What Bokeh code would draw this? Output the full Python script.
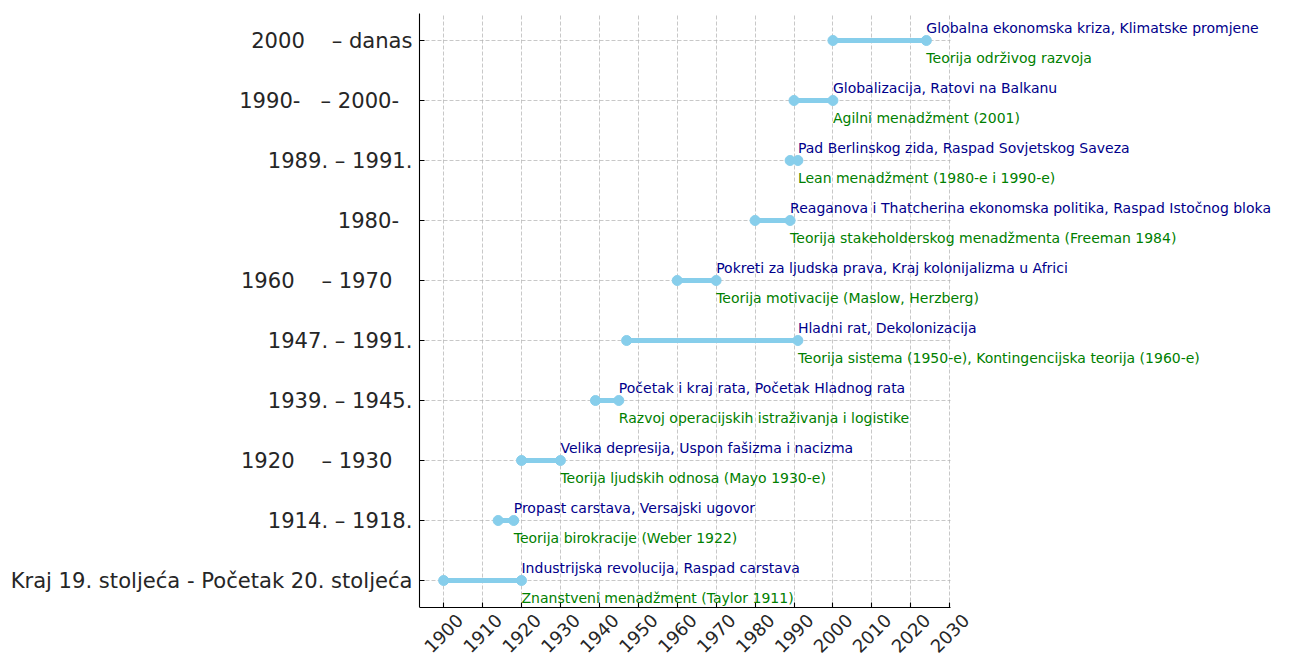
import math
from bokeh.plotting import figure
from bokeh.models import Range1d, FixedTicker, ColumnDataSource, Label
from bokeh.embed import file_html
from bokeh.resources import INLINE

NB = "\u00a0"

periods = [
    "Kraj 19. stoljeća - Početak 20. stoljeća",
    "1914." + NB + "–" + NB + "1918.",
    "1920" + NB * 4 + "–" + NB + "1930" + NB * 3,
    "1939." + NB + "–" + NB + "1945.",
    "1947." + NB + "–" + NB + "1991.",
    "1960" + NB * 4 + "–" + NB + "1970" + NB * 3,
    "1980-" + NB * 2,
    "1989." + NB + "–" + NB + "1991.",
    "1990-" + NB * 3 + "–" + NB + "2000-" + NB * 2,
    "2000" + NB * 4 + "–" + NB + "danas",
]
start_years = [1900, 1914, 1920, 1939, 1947, 1960, 1980, 1989, 1990, 2000]
end_years = [1920, 1918, 1930, 1945, 1991, 1970, 1989, 1991, 2000, 2024]
events = [
    "Industrijska revolucija, Raspad carstava",
    "Propast carstava, Versajski ugovor",
    "Velika depresija, Uspon fašizma i nacizma",
    "Početak i kraj rata, Početak Hladnog rata",
    "Hladni rat, Dekolonizacija",
    "Pokreti za ljudska prava, Kraj kolonijalizma u Africi",
    "Reaganova i Thatcherina ekonomska politika, Raspad Istočnog bloka",
    "Pad Berlinskog zida, Raspad Sovjetskog Saveza",
    "Globalizacija, Ratovi na Balkanu",
    "Globalna ekonomska kriza, Klimatske promjene",
]
theories = [
    "Znanstveni menadžment (Taylor 1911)",
    "Teorija birokracije (Weber 1922)",
    "Teorija ljudskih odnosa (Mayo 1930-e)",
    "Razvoj operacijskih istraživanja i logistike",
    "Teorija sistema (1950-e), Kontingencijska teorija (1960-e)",
    "Teorija motivacije (Maslow, Herzberg)",
    "Teorija stakeholderskog menadžmenta (Freeman 1984)",
    "Lean menadžment (1980-e i 1990-e)",
    "Agilni menadžment (2001)",
    "Teorija održivog razvoja",
]
x_ticks = list(range(1900, 2031, 10))

idx = list(range(len(periods)))
FONT = "DejaVu Sans"
TXT = "#262626"

# visible axes box (matplotlib-like 5% margins)
XMIN, XMAX = 1893.8, 2030.2
YMIN, YMAX = -0.45, 9.45
PX_PER_YEAR = 531 / (XMAX - XMIN)
FRAME_W, FRAME_H = 863, 645
PX_PER_ROW = 60.0

p = figure(
    output_backend="svg", toolbar_location=None,
    width=419 + FRAME_W, height=13 + FRAME_H,
    frame_width=FRAME_W, frame_height=FRAME_H,
    min_border_left=419, min_border_right=0, min_border_top=13, min_border_bottom=0,
    x_axis_location="above",
    x_range=Range1d(XMIN, XMIN + FRAME_W / PX_PER_YEAR),
    y_range=Range1d(YMAX - FRAME_H / PX_PER_ROW, YMAX),
    background_fill_color="white", border_fill_color="white",
)
p.outline_line_color = None

for g in (p.xgrid, p.ygrid):
    g.grid_line_color = "#b0b0b0"
    g.grid_line_alpha = 0.7
    g.grid_line_dash = "4 2"
    g.grid_line_width = 1
p.xgrid.cross_bounds = (YMIN, YMAX)
p.ygrid.cross_bounds = (XMIN, XMAX)

p.xaxis.ticker = FixedTicker(ticks=x_ticks)
p.yaxis.ticker = FixedTicker(ticks=idx)
p.yaxis.major_label_overrides = {i: lab for i, lab in enumerate(periods)}
p.xaxis.major_label_overrides = {t: "" for t in x_ticks}

for ax in (p.xaxis, p.yaxis):
    ax.axis_line_color = "black"
    ax.axis_line_width = 1.1
    ax.major_tick_line_color = "black"
    ax.major_tick_line_width = 1.1
    ax.minor_tick_line_color = None
    ax.major_label_text_font = FONT
    ax.major_label_text_font_size = "21.1px"
    ax.major_label_text_color = TXT

p.xaxis.fixed_location = YMIN
p.xaxis.bounds = (XMIN, XMAX)
p.xaxis.major_tick_out = 5
p.xaxis.major_tick_in = 0
p.xaxis.major_label_standoff = 0

p.yaxis.bounds = (YMIN, YMAX)
p.yaxis.major_tick_in = 5
p.yaxis.major_tick_out = 0
p.yaxis.major_label_standoff = 7

src = ColumnDataSource(dict(y=idx, x0=start_years, x1=end_years))

p.segment(x0="x0", y0="y", x1="x1", y1="y", source=src, line_color="skyblue", line_width=5)
p.scatter(x="x0", y="y", source=src, size=10, fill_color="skyblue", line_color="skyblue")
p.scatter(x="x1", y="y", source=src, size=10, fill_color="skyblue", line_color="skyblue")

for i in idx:
    p.add_layout(Label(x=end_years[i], y=i + 0.205, text=events[i], text_color="darkblue",
                       text_font=FONT, text_font_size="14px", text_baseline="alphabetic",
                       text_align="left"))
    p.add_layout(Label(x=end_years[i], y=i - 0.295, text=theories[i], text_color="green",
                       text_font=FONT, text_font_size="14px", text_baseline="alphabetic",
                       text_align="left"))

# rotated x tick labels, centred under each tick
for t in x_ticks:
    p.add_layout(Label(x=t, y=YMIN - 0.43, text=str(t), angle=math.pi / 4,
                       text_align="center", text_baseline="middle",
                       text_font=FONT, text_font_size="18px", text_color=TXT))

open("out.html", "w").write(file_html(p, INLINE))
